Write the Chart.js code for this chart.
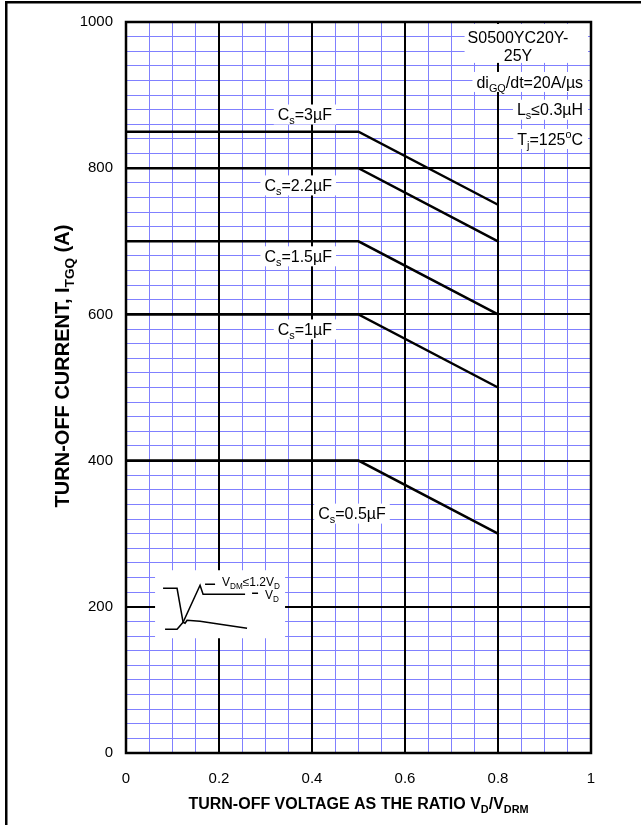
<!DOCTYPE html>
<html>
<head>
<meta charset="utf-8">
<script src="https://cdn.jsdelivr.net/npm/chart.js@4.4.1/dist/chart.umd.min.js"></script>
<style>
  html, body { margin: 0; padding: 0; background: #fff; }
  canvas { display: block; }
</style>
</head>
<body>
<canvas id="chart" width="641" height="825"></canvas>
<script>
// Dados do gráfico
const capLabels = ['C_{s}=3µF', 'C_{s}=2.2µF', 'C_{s}=1.5µF', 'C_{s}=1µF', 'C_{s}=0.5µF'];
const flatCurrent = [850, 800, 700, 600, 400];   // I_TGQ até o joelho
const endCurrent = [750, 700, 600, 500, 300];    // I_TGQ em VD/VDRM = 0.8
const kneeRatio = [0.5, 0.5, 0.5, 0.5, 0.5];
const endRatio = [0.8, 0.8, 0.8, 0.8, 0.8];
const xTicks = [0, 0.2, 0.4, 0.6, 0.8, 1];
const yTicks = [0, 200, 400, 600, 800, 1000];
const noteLines = ['S0500YC20Y-', '25Y', 'di_{GQ}/dt=20A/µs', 'L_{s}≤0.3µH', 'T_{j}=125^{o}C'];

// Posições dos rótulos (coordenadas de dados), separadas dos dados
const capLabelPos = [
    { x: 0.443, y: 874, align: 'right' },
    { x: 0.443, y: 777, align: 'right' },
    { x: 0.443, y: 680, align: 'right' },
    { x: 0.443, y: 580, align: 'right' },
    { x: 0.486, y: 328, align: 'center' }
];
const notePos = [
    { x: 0.843, y: 979, align: 'center' },
    { x: 0.843, y: 955, align: 'center' },
    { x: 0.983, y: 918, align: 'right' },
    { x: 0.983, y: 880, align: 'right' },
    { x: 0.983, y: 840, align: 'right' }
];

const FONT = '"Liberation Sans", Arial, Helvetica, sans-serif';
const BLUE = 'rgb(128,128,255)';

// Desenhar texto com subscritos/sobrescritos: _{...} e ^{...}
function richParts(str) {
    return str.split(/(_\{[^}]*\}|\^\{[^}]*\})/).filter(s => s.length).map(s => {
        if (s.startsWith('_{')) return { t: s.slice(2, -1), mode: 'sub' };
        if (s.startsWith('^{')) return { t: s.slice(2, -1), mode: 'sup' };
        return { t: s, mode: 'n' };
    });
}

function richWidth(ctx, str, size, weight) {
    let w = 0;
    richParts(str).forEach(p => {
        const fs = p.mode === 'n' ? size : size * 0.68;
        ctx.font = `${weight} ${fs}px ${FONT}`;
        w += ctx.measureText(p.t).width;
    });
    return w;
}

function drawRich(ctx, str, x, cy, size, align, weight) {
    weight = weight || 'normal';
    const w = richWidth(ctx, str, size, weight);
    let cx = align === 'right' ? x - w : align === 'center' ? x - w / 2 : x;
    const base = cy + size * 0.36;
    ctx.textBaseline = 'alphabetic';
    ctx.textAlign = 'left';
    richParts(str).forEach(p => {
        const fs = p.mode === 'n' ? size : size * 0.68;
        ctx.font = `${weight} ${fs}px ${FONT}`;
        let dy = 0;
        if (p.mode === 'sub') dy = size * 0.25;
        if (p.mode === 'sup') dy = -size * 0.42;
        ctx.fillText(p.t, cx, base + dy);
        cx += ctx.measureText(p.t).width;
    });
    return w;
}

function textLeft(ctx, str, x, size, align) {
    const w = richWidth(ctx, str, size, 'normal');
    return { left: align === 'right' ? x - w : align === 'center' ? x - w / 2 : x, w: w };
}

function labelWithBox(ctx, str, x, cy, size, align) {
    const m = textLeft(ctx, str, x, size, align);
    ctx.fillStyle = '#fff';
    ctx.fillRect(m.left - 4, cy - size * 0.6, m.w + 8, size * 1.25);
    ctx.fillStyle = '#000';
    drawRich(ctx, str, x, cy, size, align);
}

// Plugin: fundo, moldura e grade principal
const framePlugin = {
    id: 'frame',
    beforeDraw(chart) {
        const ctx = chart.ctx;
        ctx.save();
        ctx.fillStyle = '#fff';
        ctx.fillRect(0, 0, chart.width, chart.height);
        ctx.fillStyle = '#000';
        ctx.fillRect(5, 1, chart.width - 5, 2.5);
        ctx.fillRect(5, 1, 2.5, chart.height);
        ctx.restore();
    },
    beforeDatasetsDraw(chart) {
        const ctx = chart.ctx;
        const a = chart.chartArea;
        const xs = chart.scales.x, ys = chart.scales.y;
        ctx.save();
        ctx.strokeStyle = '#000';
        ctx.lineWidth = 2;
        xTicks.forEach(v => {
            const px = Math.round(xs.getPixelForValue(v));
            ctx.beginPath(); ctx.moveTo(px, a.top); ctx.lineTo(px, a.bottom); ctx.stroke();
        });
        yTicks.forEach(v => {
            const py = Math.round(ys.getPixelForValue(v));
            ctx.beginPath(); ctx.moveTo(a.left, py); ctx.lineTo(a.right, py); ctx.stroke();
        });

        // Caixas brancas dos rótulos (sobre a grade)
        const xsP = v => xs.getPixelForValue(v), ysP = v => ys.getPixelForValue(v);
        capLabels.forEach((t, i) => {
            const p = capLabelPos[i];
            labelWithBox(ctx, t, xsP(p.x), ysP(p.y), 16, p.align);
        });

        // Nota do canto superior direito: fundo branco até a borda
        const size = 16;
        ctx.fillStyle = '#fff';
        const m0 = textLeft(ctx, noteLines[0], xsP(notePos[0].x), size, 'center');
        ctx.fillRect(m0.left - 3, a.top + 2, a.right - 3 - (m0.left - 3), ysP(notePos[1].y) + 8 - a.top - 2);
        for (let i = 2; i < noteLines.length; i++) {
            const m = textLeft(ctx, noteLines[i], xsP(notePos[i].x), size, notePos[i].align);
            const cy = ysP(notePos[i].y);
            ctx.fillRect(m.left - 4, cy - 10, a.right - 3 - (m.left - 4), 20);
        }
        ctx.fillStyle = '#000';
        noteLines.forEach((t, i) => {
            const p = notePos[i];
            drawRich(ctx, t, xsP(p.x), ysP(p.y), size, p.align);
        });

        // Esboço da forma de onda (ilustração)
        const ox = xsP(0.0625), oy = ysP(250);
        ctx.fillStyle = '#fff';
        ctx.fillRect(ox, oy, 130, 68);
        ctx.strokeStyle = '#000';
        ctx.lineWidth = 1.5;
        const poly = pts => {
            ctx.beginPath();
            pts.forEach((p, k) => k ? ctx.lineTo(ox + p[0], oy + p[1]) : ctx.moveTo(ox + p[0], oy + p[1]));
            ctx.stroke();
        };
        poly([[10, 59], [22, 59], [28, 52], [45, 15], [48, 24], [90, 24]]);
        poly([[8, 18], [22, 18], [28, 52], [30, 53], [32, 50], [45, 51], [65, 54], [92, 58]]);
        poly([[50, 14], [60, 14]]);
        poly([[97, 23], [103, 23]]);
        ctx.fillStyle = '#000';
        drawRich(ctx, 'V_{DM}≤1.2V_{D}', ox + 67, oy + 11, 12, 'left');
        drawRich(ctx, 'V_{D}', ox + 110, oy + 24, 12, 'left');

        // Borda da área do gráfico
        ctx.strokeStyle = '#000';
        ctx.lineWidth = 2.5;
        ctx.strokeRect(a.left, a.top, a.right - a.left, a.bottom - a.top);
        ctx.restore();
    },
    afterDraw(chart) {
        const ctx = chart.ctx;
        const a = chart.chartArea;
        ctx.save();
        ctx.fillStyle = '#000';
        drawRich(ctx, 'TURN-OFF VOLTAGE AS THE RATIO V_{D}/V_{DRM}', (a.left + a.right) / 2, 803, 16, 'center', 'bold');
        ctx.translate(62, 366);
        ctx.rotate(-Math.PI / 2);
        drawRich(ctx, 'TURN-OFF CURRENT, I_{TGQ} (A)', 0, 0, 20, 'center', 'bold');
        ctx.restore();
    }
};

// Montar datasets a partir dos arrays
const datasets = capLabels.map((lab, i) => ({
    label: lab,
    data: [
        { x: 0, y: flatCurrent[i] },
        { x: kneeRatio[i], y: flatCurrent[i] },
        { x: endRatio[i], y: endCurrent[i] }
    ],
    borderColor: '#000',
    borderWidth: 2.5,
    pointRadius: 0,
    tension: 0,
    fill: false
}));

const isMajorX = v => Math.round(v * 100) % 20 === 0;
const isMajorY = v => Math.round(v) % 200 === 0;

new Chart(document.getElementById('chart'), {
    type: 'line',
    data: { datasets: datasets },
    options: {
        responsive: false,
        animation: false,
        devicePixelRatio: 1,
        layout: { padding: { top: 21, right: 50, left: 0, bottom: 0 } },
        plugins: {
            legend: { display: false },
            tooltip: { enabled: false }
        },
        scales: {
            x: {
                type: 'linear',
                min: 0,
                max: 1,
                afterFit: s => { s.height = 72; },
                grid: { color: BLUE, lineWidth: 1, drawTicks: false },
                border: { display: false },
                ticks: {
                    stepSize: 0.05,
                    autoSkip: false,
                    maxRotation: 0,
                    padding: 17,
                    color: '#000',
                    font: { family: FONT, size: 15 },
                    callback: v => isMajorX(v) ? String(Math.round(v * 100) / 100) : ''
                }
            },
            y: {
                type: 'linear',
                min: 0,
                max: 1000,
                afterFit: s => { s.width = 126; },
                grid: { color: BLUE, lineWidth: 1, drawTicks: false },
                border: { display: false },
                ticks: {
                    stepSize: 20,
                    autoSkip: false,
                    padding: 13,
                    color: '#000',
                    font: { family: FONT, size: 15 },
                    callback: v => isMajorY(v) ? String(Math.round(v)) : ''
                }
            }
        }
    },
    plugins: [framePlugin]
});
</script>
</body>
</html>
